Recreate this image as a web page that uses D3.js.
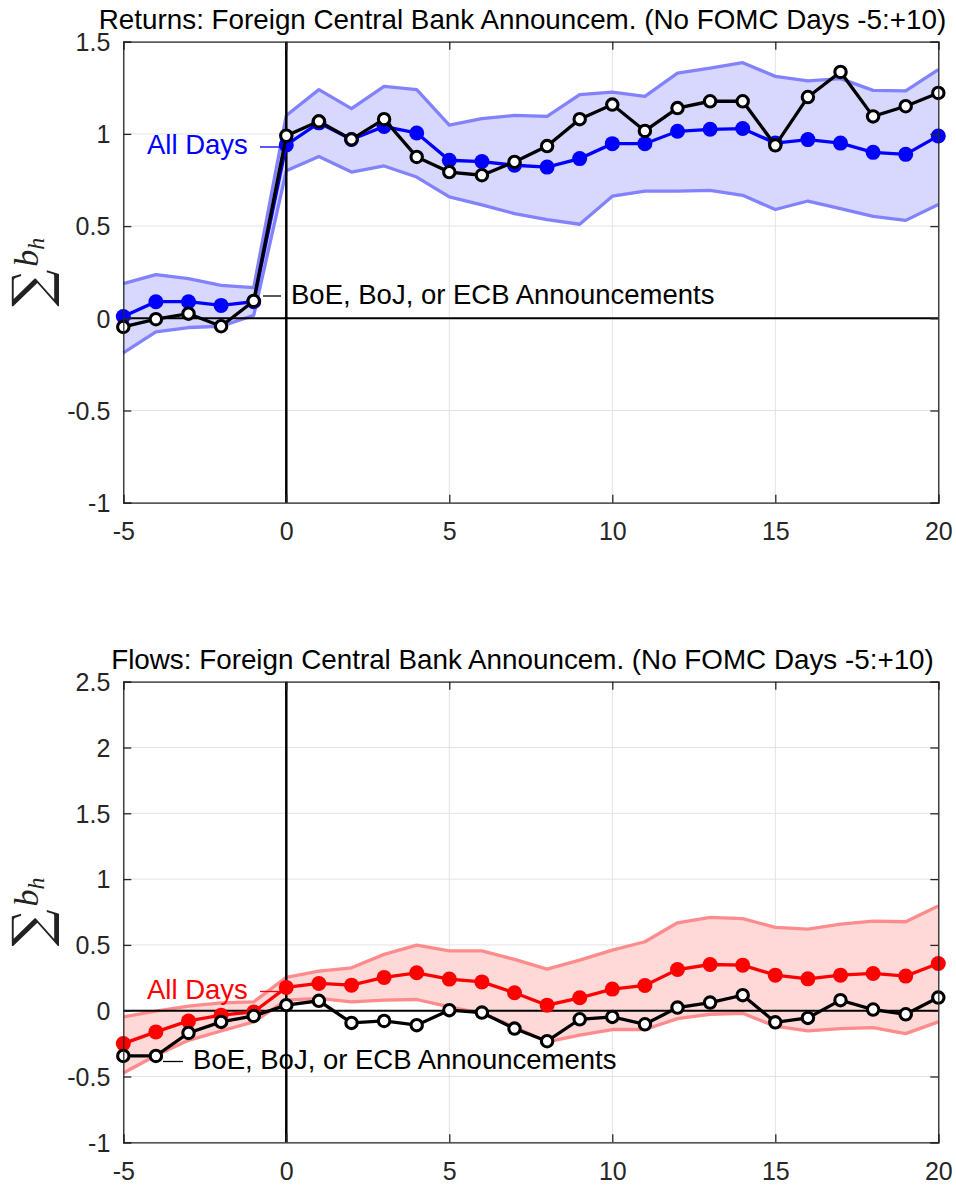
<!DOCTYPE html>
<html>
<head>
<meta charset="utf-8">
<script src="https://cdn.jsdelivr.net/npm/d3@7"></script>
<style>
  body { margin: 0; background: #fff; }
  svg { display: block; font-family: "Liberation Sans", Arial, Helvetica, sans-serif; }
</style>
</head>
<body>
<svg id="chart" width="956" height="1186"></svg>
<script>
const days = [-5,-4,-3,-2,-1,0,1,2,3,4,5,6,7,8,9,10,11,12,13,14,15,16,17,18,19,20];

// returns panel
const retAll = [0.01,0.09,0.09,0.07,0.09,0.94,1.06,0.97,1.04,1.005,0.857,0.85,0.83,0.82,0.866,0.947,0.947,1.014,1.025,1.029,0.95,0.969,0.95,0.90,0.889,0.989];
const retAnn = [-0.047,-0.005,0.025,-0.043,0.094,0.99,1.068,0.97,1.08,0.875,0.793,0.776,0.848,0.934,1.08,1.159,1.016,1.14,1.177,1.177,0.938,1.20,1.336,1.095,1.15,1.222];
const retUp = [0.188,0.237,0.215,0.179,0.166,1.10,1.24,1.137,1.258,1.24,1.047,1.083,1.10,1.095,1.213,1.227,1.204,1.33,1.357,1.386,1.312,1.287,1.30,1.236,1.233,1.349];
const retLo = [-0.188,-0.074,-0.05,-0.043,0.016,0.80,0.878,0.793,0.826,0.766,0.658,0.615,0.568,0.535,0.51,0.662,0.69,0.69,0.694,0.667,0.59,0.636,0.595,0.553,0.531,0.617];

// flows panel
const flowAll = [-0.25,-0.161,-0.078,-0.034,-0.01,0.177,0.207,0.194,0.253,0.288,0.24,0.219,0.136,0.042,0.098,0.164,0.192,0.313,0.351,0.346,0.27,0.242,0.27,0.283,0.263,0.359];
const flowAnn = [-0.344,-0.344,-0.169,-0.085,-0.04,0.042,0.075,-0.093,-0.078,-0.11,0.004,-0.014,-0.136,-0.232,-0.065,-0.047,-0.103,0.024,0.062,0.118,-0.088,-0.055,0.08,0.009,-0.027,0.10];
const flowUp = [-0.047,-0.004,0.034,0.06,0.067,0.253,0.30,0.326,0.428,0.498,0.455,0.455,0.39,0.316,0.384,0.46,0.524,0.668,0.709,0.70,0.633,0.62,0.658,0.681,0.676,0.795];
const flowLo = [-0.473,-0.34,-0.225,-0.154,-0.085,0.08,0.093,0.067,0.08,0.085,0.029,-0.02,-0.123,-0.237,-0.186,-0.143,-0.143,-0.06,-0.027,-0.02,-0.118,-0.154,-0.136,-0.128,-0.174,-0.085];

const xTicks = [-5,0,5,10,15,20];
const retTicks = [-1,-0.5,0,0.5,1,1.5];
const flowTicks = [-1,-0.5,0,0.5,1,1.5,2,2.5];

const svg = d3.select("#chart");
const axisColor = "#262626";
const gridColor = "#e3e3e3";

const x = d3.scaleLinear().domain([-5, 20]).range([123.3, 938.3]);

function drawPanel(opt) {
    const y = d3.scaleLinear().domain(opt.domain).range(opt.range);
    const g = svg.append("g");
    const top = opt.range[1], bottom = opt.range[0];
    const left = x.range()[0], right = x.range()[1];

    // grid
    g.append("g").selectAll("line").data(xTicks).join("line")
        .attr("x1", d => x(d)).attr("x2", d => x(d))
        .attr("y1", top).attr("y2", bottom)
        .attr("stroke", gridColor).attr("stroke-width", 1);
    g.append("g").selectAll("line").data(opt.ticks).join("line")
        .attr("x1", left).attr("x2", right)
        .attr("y1", d => y(d)).attr("y2", d => y(d))
        .attr("stroke", gridColor).attr("stroke-width", 1);

    const rows = days.map((d, i) => ({ day: d, all: opt.all[i], ann: opt.ann[i], up: opt.up[i], lo: opt.lo[i] }));

    // confidence band
    g.append("path").datum(rows)
        .attr("d", d3.area().x(d => x(d.day)).y0(d => y(d.lo)).y1(d => y(d.up)))
        .attr("fill", opt.fill);
    ["up", "lo"].forEach(k => {
        g.append("path").datum(rows)
            .attr("d", d3.line().x(d => x(d.day)).y(d => y(d[k])))
            .attr("fill", "none")
            .attr("stroke", opt.edge)
            .attr("stroke-width", 3.3)
            .attr("stroke-linejoin", "round");
    });

    // zero lines
    g.append("line")
        .attr("x1", left).attr("x2", right)
        .attr("y1", y(0)).attr("y2", y(0))
        .attr("stroke", "#000").attr("stroke-width", 2);
    g.append("line")
        .attr("x1", x(0)).attr("x2", x(0))
        .attr("y1", top).attr("y2", bottom)
        .attr("stroke", "#000").attr("stroke-width", 2.5);

    // all days series
    g.append("path").datum(rows)
        .attr("d", d3.line().x(d => x(d.day)).y(d => y(d.all)))
        .attr("fill", "none").attr("stroke", opt.color).attr("stroke-width", 3.3);
    g.append("g").selectAll("circle").data(rows).join("circle")
        .attr("cx", d => x(d.day)).attr("cy", d => y(d.all))
        .attr("r", 7.5).attr("fill", opt.color);

    // announcement series
    g.append("path").datum(rows)
        .attr("d", d3.line().x(d => x(d.day)).y(d => y(d.ann)))
        .attr("fill", "none").attr("stroke", "#000").attr("stroke-width", 3.3);
    g.append("g").selectAll("circle").data(rows).join("circle")
        .attr("cx", d => x(d.day)).attr("cy", d => y(d.ann))
        .attr("r", 5.7).attr("fill", "#fff")
        .attr("stroke", "#000").attr("stroke-width", 3.1);

    // axes box with inward ticks
    const xAxis = d3.axisBottom(x).tickValues(xTicks).tickSize(-8).tickFormat(d => String(d));
    const yAxis = d3.axisLeft(y).tickValues(opt.ticks).tickSize(-8).tickPadding(13).tickFormat(d => String(d));
    const ax = g.append("g").attr("transform", `translate(0,${bottom})`).call(xAxis);
    const ay = g.append("g").attr("transform", `translate(${left},0)`).call(yAxis);
    g.append("g").attr("transform", `translate(0,${top})`)
        .call(d3.axisTop(x).tickValues(xTicks).tickSize(-8).tickFormat(""));
    g.append("g").attr("transform", `translate(${right},0)`)
        .call(d3.axisRight(y).tickValues(opt.ticks).tickSize(-8).tickFormat(""));
    g.selectAll(".domain").attr("stroke", axisColor).attr("stroke-width", 1.3);
    g.selectAll(".tick line").attr("stroke", axisColor).attr("stroke-width", 1.3);
    [ax, ay].forEach(a => a.selectAll("text")
        .attr("fill", axisColor).style("font-size", "25px")
        .style("font-family", "'Liberation Sans', Arial, sans-serif"));
    ax.selectAll("text").attr("dy", "0.71em").attr("y", 20);
    ay.selectAll("text").attr("dy", "0.35em");

    // title
    svg.append("text")
        .attr("x", 522.5).attr("y", top - 13)
        .attr("text-anchor", "middle")
        .style("font-size", "27.8px").attr("fill", "#000")
        .text(opt.title);

    // y label: sum of b_h
    const yl = svg.append("g")
        .attr("transform", `translate(49,${(top + bottom) / 2}) rotate(-90)`);
    const t = yl.append("text").attr("text-anchor", "middle");
    t.append("tspan").text("\u2211")
        .style("font-family", "'DejaVu Serif', 'Liberation Serif', serif")
        .style("font-size", "52px").attr("fill", "#222");
    t.append("tspan").text("b").attr("dx", 3).attr("dy", -11)
        .style("font-family", "'Liberation Serif', 'DejaVu Serif', serif")
        .style("font-style", "italic").style("font-size", "34px").attr("fill", "#222");
    t.append("tspan").text("h").attr("dy", 6)
        .style("font-family", "'Liberation Serif', 'DejaVu Serif', serif")
        .style("font-style", "italic").style("font-size", "24px").attr("fill", "#222");

    // annotations
    const a1 = opt.allLabel, a2 = opt.annLabel;
    svg.append("text").attr("x", a1.tx).attr("y", a1.ty)
        .style("font-size", "27.5px").attr("fill", opt.color).text("All Days");
    svg.append("line").attr("x1", a1.lx1).attr("x2", a1.lx2).attr("y1", a1.ly).attr("y2", a1.ly)
        .attr("stroke", opt.color).attr("stroke-width", 1.3);
    svg.append("text").attr("x", a2.tx).attr("y", a2.ty)
        .style("font-size", "27.5px").attr("fill", "#000").text("BoE, BoJ, or ECB Announcements");
    svg.append("line").attr("x1", a2.lx1).attr("x2", a2.lx2).attr("y1", a2.ly).attr("y2", a2.ly)
        .attr("stroke", "#000").attr("stroke-width", 1.3);
}

drawPanel({
    title: "Returns: Foreign Central Bank Announcem. (No FOMC Days -5:+10)",
    domain: [-1, 1.5], range: [502.7, 41.7], ticks: retTicks,
    all: retAll, ann: retAnn, up: retUp, lo: retLo,
    color: "#0000ff", fill: "rgb(216,216,255)", edge: "rgb(130,130,255)",
    allLabel: { tx: 147, ty: 154, lx1: 260, lx2: 281, ly: 147 },
    annLabel: { tx: 291, ty: 303.5, lx1: 263, lx2: 281, ly: 296 }
});

drawPanel({
    title: "Flows: Foreign Central Bank Announcem. (No FOMC Days -5:+10)",
    domain: [-1, 2.5], range: [1142.3, 681.7], ticks: flowTicks,
    all: flowAll, ann: flowAnn, up: flowUp, lo: flowLo,
    color: "#ff0000", fill: "rgb(255,216,216)", edge: "rgb(255,140,140)",
    allLabel: { tx: 147, ty: 999, lx1: 260, lx2: 279, ly: 991.5 },
    annLabel: { tx: 193, ty: 1068.5, lx1: 163, lx2: 183, ly: 1061.5 }
});
</script>
</body>
</html>
